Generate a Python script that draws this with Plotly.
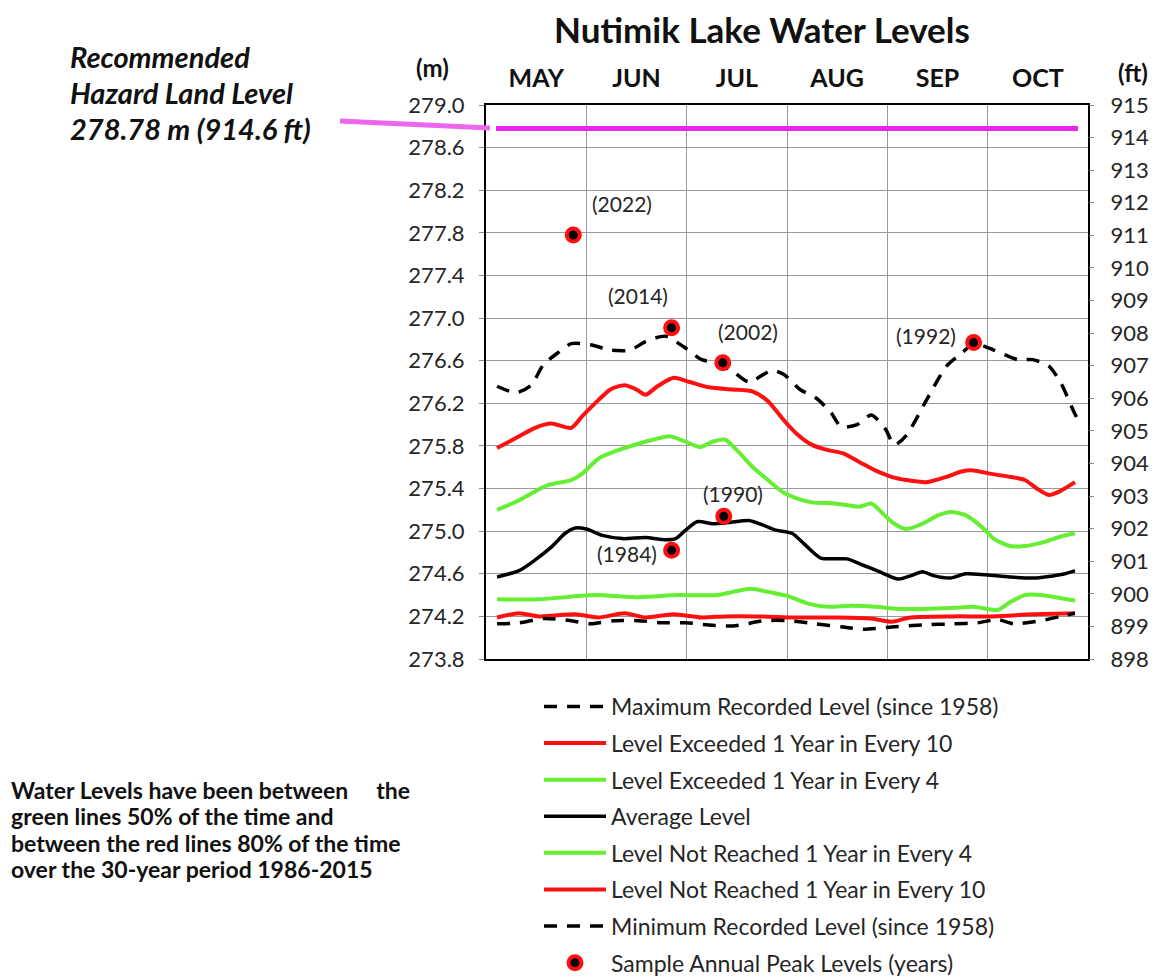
import plotly.graph_objects as go

# ---------------- data (x in months since May 1) ----------------
months = ["MAY", "JUN", "JUL", "AUG", "SEP", "OCT"]
month_centers = [0.5, 1.5, 2.5, 3.5, 4.5, 5.5]
month_bounds = [1, 2, 3, 4, 5]

max_x = [0.11, 0.30, 0.45, 0.57, 0.71, 0.85, 1.04, 1.24, 1.44, 1.59, 1.79, 1.97, 2.15, 2.30,
         2.46, 2.62, 2.85, 2.97, 3.13, 3.29, 3.44, 3.54, 3.70, 3.84, 3.98, 4.07, 4.19, 4.39,
         4.59, 4.74, 4.86, 5.06, 5.30, 5.45, 5.61, 5.73, 5.85, 5.89]
max_y = [276.36, 276.30, 276.37, 276.56, 276.67, 276.76, 276.75, 276.70, 276.70, 276.78,
         276.83, 276.73, 276.61, 276.58, 276.50, 276.40, 276.51, 276.47, 276.33, 276.25,
         276.11, 275.98, 276.00, 276.09, 275.96, 275.81, 275.90, 276.23, 276.55, 276.67,
         276.76, 276.70, 276.61, 276.61, 276.55, 276.39, 276.14, 276.06]

ex10_x = [0.11, 0.33, 0.49, 0.65, 0.85, 0.96, 1.12, 1.24, 1.38, 1.50, 1.59, 1.71, 1.87, 2.03,
          2.22, 2.46, 2.66, 2.81, 2.97, 3.09, 3.25, 3.41, 3.56, 3.72, 3.88, 4.04, 4.19, 4.39,
          4.59, 4.74, 4.86, 5.02, 5.22, 5.37, 5.49, 5.61, 5.73, 5.87]
ex10_y = [275.78, 275.89, 275.97, 276.01, 275.97, 276.08, 276.23, 276.33, 276.37, 276.33,
          276.28, 276.36, 276.44, 276.40, 276.35, 276.33, 276.31, 276.22, 276.04, 275.92,
          275.81, 275.76, 275.73, 275.65, 275.57, 275.51, 275.48, 275.46, 275.51, 275.56,
          275.57, 275.54, 275.51, 275.48, 275.40, 275.34, 275.38, 275.46]

ex4_x = [0.11, 0.33, 0.61, 0.85, 0.96, 1.12, 1.32, 1.52, 1.67, 1.83, 1.99, 2.13, 2.26, 2.38,
         2.50, 2.66, 2.81, 2.97, 3.09, 3.25, 3.48, 3.72, 3.84, 3.96, 4.07, 4.19, 4.35, 4.51,
         4.63, 4.78, 4.94, 5.06, 5.22, 5.37, 5.57, 5.73, 5.87]
ex4_y = [275.20, 275.29, 275.43, 275.48, 275.54, 275.68, 275.76, 275.82, 275.86, 275.89,
         275.84, 275.79, 275.84, 275.86, 275.76, 275.60, 275.48, 275.36, 275.31, 275.27,
         275.26, 275.23, 275.26, 275.16, 275.07, 275.02, 275.07, 275.15, 275.18, 275.15,
         275.04, 274.93, 274.86, 274.86, 274.90, 274.95, 274.98]

avg_x = [0.11, 0.33, 0.49, 0.65, 0.79, 0.89, 1.00, 1.16, 1.36, 1.59, 1.79, 1.89, 1.99, 2.11,
         2.26, 2.42, 2.62, 2.78, 2.89, 3.05, 3.17, 3.33, 3.48, 3.60, 3.76, 3.92, 4.11, 4.23,
         4.35, 4.47, 4.63, 4.78, 4.98, 5.22, 5.45, 5.65, 5.77, 5.87]
avg_y = [274.57, 274.63, 274.73, 274.85, 274.98, 275.03, 275.02, 274.96, 274.93, 274.94,
         274.92, 274.93, 275.01, 275.09, 275.07, 275.08, 275.10, 275.05, 275.01, 274.98,
         274.88, 274.75, 274.74, 274.74, 274.68, 274.62, 274.55, 274.58, 274.62, 274.58,
         274.56, 274.60, 274.59, 274.57, 274.56, 274.58, 274.60, 274.63]

nr4_x = [0.11, 0.53, 1.08, 1.52, 1.91, 2.30, 2.46, 2.64, 2.81, 3.01, 3.21, 3.41, 3.64, 3.88,
         4.11, 4.35, 4.66, 4.86, 5.10, 5.22, 5.37, 5.53, 5.73, 5.87]
nr4_y = [274.36, 274.36, 274.40, 274.38, 274.40, 274.40, 274.43, 274.46, 274.43, 274.39,
         274.32, 274.29, 274.30, 274.29, 274.27, 274.27, 274.28, 274.29, 274.26, 274.33,
         274.40, 274.40, 274.37, 274.35]

nr10_x = [0.11, 0.33, 0.53, 0.89, 1.12, 1.38, 1.59, 1.87, 2.15, 2.38, 2.70, 3.09, 3.48, 3.84,
          4.04, 4.23, 4.66, 5.06, 5.45, 5.87]
nr10_y = [274.19, 274.23, 274.20, 274.22, 274.19, 274.23, 274.19, 274.22, 274.19, 274.20,
          274.20, 274.19, 274.19, 274.18, 274.15, 274.19, 274.20, 274.20, 274.22, 274.23]

min_x = [0.11, 0.33, 0.57, 0.85, 1.04, 1.28, 1.52, 1.75, 1.99, 2.22, 2.46, 2.78, 3.01, 3.29,
         3.56, 3.76, 4.04, 4.35, 4.66, 4.90, 5.10, 5.26, 5.53, 5.73, 5.87]
min_y = [274.13, 274.14, 274.18, 274.16, 274.13, 274.16, 274.16, 274.14, 274.14, 274.12,
         274.11, 274.16, 274.16, 274.13, 274.10, 274.08, 274.10, 274.12, 274.13, 274.14,
         274.17, 274.13, 274.16, 274.20, 274.23]

peak_years = ["(2022)", "(2014)", "(2002)", "(1992)", "(1984)", "(1990)"]
peak_x = [0.87, 1.85, 2.36, 4.86, 1.85, 2.37]
peak_y = [277.78, 276.91, 276.58, 276.77, 274.82, 275.14]

hazard_level = 278.78
hazard_x = [0.1, 5.9]

m_ticks = [273.8 + 0.4 * i for i in range(14)]
ft_ticks = list(range(898, 916))

# ---------------- styling ----------------
RED = "#FF1010"
GREEN = "#66EE33"
BLACK = "#000000"
MAGENTA = "#EE22EE"
FONT = "Lato"
TXT = "#262626"

OFF = 8  # page body margin
W, H = 1159 - OFF, 977 - OFF
L = 486 - OFF
T = 105 - OFF
R = W - (1088 - OFF)
B = H - (659 - OFF)
PW, PH = W - L - R, H - T - B


def px(xs):
    """screen x -> paper x"""
    return (xs - OFF - L) / PW


def py(ys):
    """screen y -> paper y"""
    return (H - B - (ys - OFF)) / PH


fig = go.Figure()

series = [
    ("Maximum Recorded Level (since 1958)", max_x, max_y, BLACK, "13px,10px", 3.5),
    ("Level Exceeded 1 Year in Every 10", ex10_x, ex10_y, RED, "solid", 4),
    ("Level Exceeded 1 Year in Every 4", ex4_x, ex4_y, GREEN, "solid", 4),
    ("Average Level", avg_x, avg_y, BLACK, "solid", 3.5),
    ("Level Not Reached 1 Year in Every 4", nr4_x, nr4_y, GREEN, "solid", 4),
    ("Level Not Reached 1 Year in Every 10", nr10_x, nr10_y, RED, "solid", 4),
    ("Minimum Recorded Level (since 1958)", min_x, min_y, BLACK, "13px,10px", 3.5),
]

fig.add_trace(go.Scatter(x=hazard_x, y=[hazard_level, hazard_level], mode="lines",
                         line=dict(color=MAGENTA, width=5), showlegend=False,
                         hoverinfo="skip"))

for i, (name, xs, ys, col, dash, w) in enumerate(series):
    fig.add_trace(go.Scatter(x=xs, y=ys, mode="lines", name=name,
                             legendgroup="g%d" % i,
                             line=dict(color=col, dash=dash, width=w,
                                       shape="spline", smoothing=0.7)))

fig.add_trace(go.Scatter(x=peak_x, y=peak_y, mode="markers",
                         name="Sample Annual Peak Levels (years)", legendgroup="g8",
                         marker=dict(color=BLACK, size=13, line=dict(color=RED, width=4))))

# invisible trace to carry the ft axis
fig.add_trace(go.Scatter(x=[0], y=[914.6], yaxis="y2", mode="markers",
                         marker=dict(opacity=0), showlegend=False, hoverinfo="skip"))

# year labels
offsets = [(49, 31), (-34, 32), (25, 31), (-48, 7), (-45, -3), (9, 23)]
for lab, xv, yv, (dx, dy) in zip(peak_years, peak_x, peak_y, offsets):
    fig.add_annotation(x=xv, y=yv, text=lab, showarrow=False, xshift=dx, yshift=dy,
                       xanchor="center", yanchor="middle",
                       font=dict(family=FONT, size=21, color=TXT))

# hazard text
for i, line in enumerate(["Recommended", "Hazard Land Level", "278.78 m (914.6 ft)"]):
    fig.add_annotation(xref="paper", yref="paper", x=px(68), y=py(56 + 36.5 * i),
                       xanchor="left", yanchor="middle", showarrow=False,
                       text="<b><i>%s</i></b>" % line,
                       font=dict(family=FONT, size=29, color="#111111"))

# note text
note = ["Water Levels have been between\u00a0\u00a0\u00a0\u00a0 the",
        "green lines 50% of the time and",
        "between the red lines 80% of the time",
        "over the 30-year period 1986-2015"]
for i, line in enumerate(note):
    fig.add_annotation(xref="paper", yref="paper", x=px(9), y=py(790 + 26.4 * i),
                       xanchor="left", yanchor="middle", showarrow=False,
                       text="<b>%s</b>" % line,
                       font=dict(family=FONT, size=23, color="#111111"))

# units
fig.add_annotation(xref="paper", yref="paper", x=px(432), y=py(68), text="<b>(m)</b>",
                   xanchor="center", yanchor="middle",
                   showarrow=False, font=dict(family=FONT, size=24, color="#111111"))
fig.add_annotation(xref="paper", yref="paper", x=px(1133), y=py(72), text="<b>(ft)</b>",
                   xanchor="center", yanchor="middle",
                   showarrow=False, font=dict(family=FONT, size=24, color="#111111"))

# outside magenta leader line
fig.add_shape(type="line", xref="paper", yref="paper", x0=px(340), y0=py(121),
              x1=px(490), y1=py(128), line=dict(color="#EE66EE", width=5))

fig.update_layout(
    width=W, height=H,
    margin=dict(l=L, r=R, t=T, b=B, autoexpand=False),
    paper_bgcolor="white", plot_bgcolor="white",
    title=dict(text="<b>Nutimik Lake Water Levels</b>", xref="paper", x=px(762),
               xanchor="center", yref="container", y=1 - (31 - OFF) / H, yanchor="middle",
               font=dict(family=FONT, size=35, color="#111111")),
    xaxis=dict(range=[0, 6], side="top", tickvals=month_centers,
               ticktext=["<b>%s</b>" % m for m in months], ticks="",
               tickfont=dict(family=FONT, size=25, color="#111111"),
               ticklabelstandoff=6,
               showgrid=False, zeroline=False, showline=True, mirror=True,
               linecolor="black", linewidth=2,
               minor=dict(tickvals=month_bounds, showgrid=True, gridcolor="#9a9a9a",
                          gridwidth=1, ticks="")),
    yaxis=dict(range=[273.8, 279.0], tickvals=m_ticks,
               ticktext=["%.1f" % v for v in m_ticks], ticks="outside", ticklen=5,
               tickcolor="#888888", ticklabelstandoff=10,
               tickfont=dict(family=FONT, size=22, color=TXT),
               showgrid=True, gridcolor="#9a9a9a", gridwidth=1, zeroline=False,
               showline=True, mirror=True, linecolor="black", linewidth=2),
    yaxis2=dict(range=[898, 915], overlaying="y", side="right", tickvals=ft_ticks,
                ticks="outside", ticklen=5, tickcolor="#888888", ticklabelstandoff=12,
                tickfont=dict(family=FONT, size=22, color=TXT),
                showgrid=False, zeroline=False, showline=False),
    legend=dict(x=px(539), y=py(685), xanchor="left", yanchor="top",
                tracegroupgap=3.7, itemwidth=62, traceorder="grouped",
                font=dict(family=FONT, size=23, color=TXT), bgcolor="rgba(0,0,0,0)"),
    showlegend=True,
)

fig.write_html("out.html")
